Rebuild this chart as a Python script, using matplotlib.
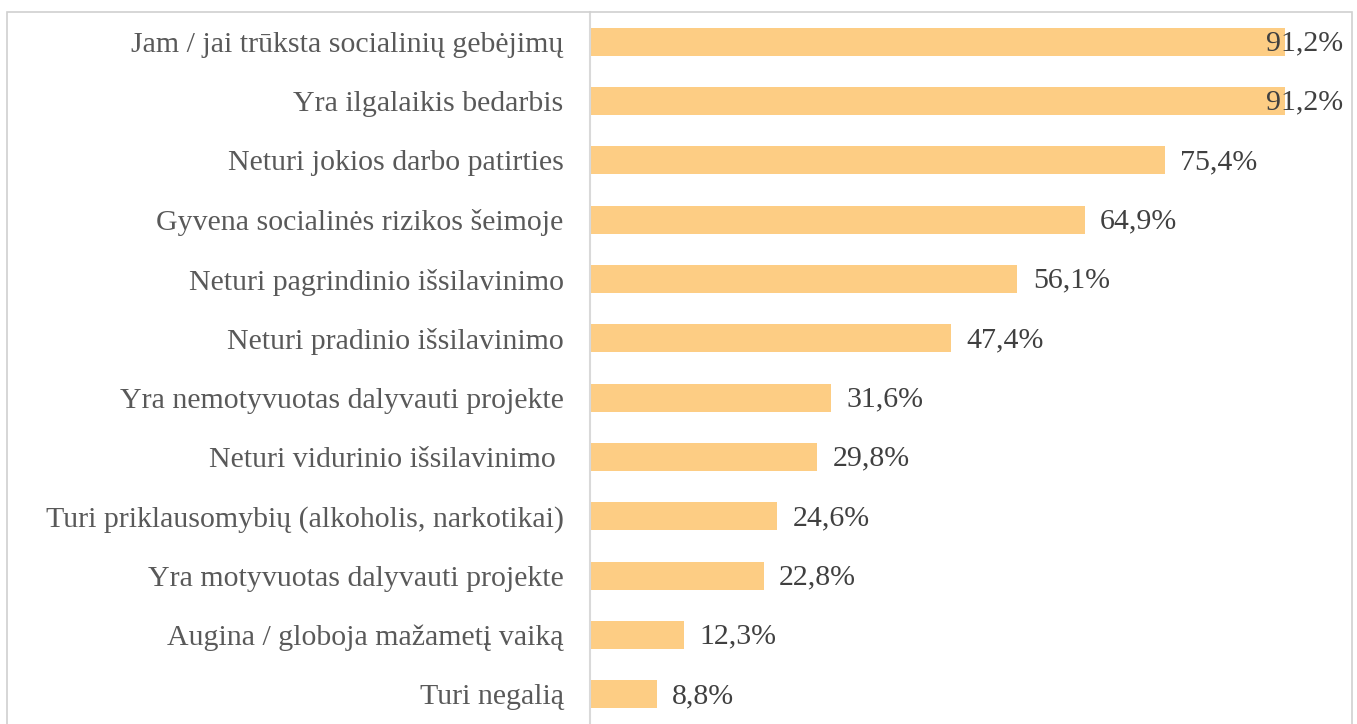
import matplotlib.pyplot as plt
from matplotlib.patches import Rectangle

categories = [
    "Jam / jai trūksta socialinių gebėjimų",
    "Yra ilgalaikis bedarbis",
    "Neturi jokios darbo patirties",
    "Gyvena socialinės rizikos šeimoje",
    "Neturi pagrindinio išsilavinimo",
    "Neturi pradinio išsilavinimo",
    "Yra nemotyvuotas dalyvauti projekte",
    "Neturi vidurinio išsilavinimo ",
    "Turi priklausomybių (alkoholis, narkotikai)",
    "Yra motyvuotas dalyvauti projekte",
    "Augina / globoja mažametį vaiką",
    "Turi negalią",
]
values = [91.2, 91.2, 75.4, 64.9, 56.1, 47.4, 31.6, 29.8, 24.6, 22.8, 12.3, 8.8]
value_labels = ["91,2%", "91,2%", "75,4%", "64,9%", "56,1%", "47,4%",
                "31,6%", "29,8%", "24,6%", "22,8%", "12,3%", "8,8%"]

plt.rcParams["font.family"] = ["Liberation Serif", "DejaVu Serif"]

W, H = 1357, 724
fig = plt.figure(figsize=(W / 100, H / 100), dpi=100)
ax = fig.add_axes([590 / W, 0, (1352 - 590) / W, 1 - 12 / H])

y = list(range(len(categories)))
ax.barh(y, values, height=0.47, color="#FDCD84")
ax.set_xlim(0, 100)
ax.set_ylim(len(categories) - 0.5, -0.5)

for i, (v, lab) in enumerate(zip(values, value_labels)):
    if v > 90:
        ax.text(0.988, i + 0.03, lab, transform=ax.get_yaxis_transform(), ha="right",
                va="center", fontsize=21.5, color="#404040")
    else:
        ax.text(v + 2, i + 0.03, lab, ha="left", va="center", fontsize=21.5, color="#404040")

ax.set_yticks(y)
ax.set_yticklabels(categories, fontsize=21.5, color="#595959")
ax.tick_params(axis="y", length=0, pad=19)
ax.set_xticks([])
for s in ["top", "right", "bottom"]:
    ax.spines[s].set_visible(False)
ax.spines["left"].set_color("#D9D9D9")
ax.spines["left"].set_linewidth(1.5)

fig.patches.append(Rectangle((7 / W, -0.01), (1352 - 7) / W, 1.01 - 12 / H,
                             transform=fig.transFigure, fill=False,
                             edgecolor="#D0D0D0", linewidth=1.2))

plt.savefig("out.png", dpi=100)
